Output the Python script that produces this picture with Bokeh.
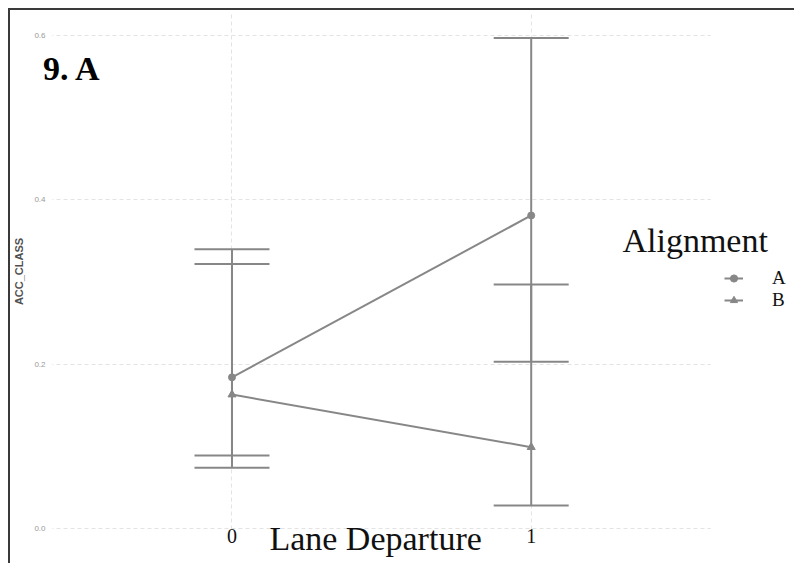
from bokeh.plotting import figure
from bokeh.models import (ColumnDataSource, Whisker, TeeHead, FixedTicker, Range1d,
                          Label, Legend, LegendItem, PrintfTickFormatter, LinearAxis,
                          BoxAnnotation)
from bokeh.embed import file_html
from bokeh.resources import INLINE

# ---- data ----
lane_departure = [0, 1]
acc_A = [0.184, 0.381]
acc_B = [0.163, 0.099]
lower_A = [0.089, 0.203]
upper_A = [0.340, 0.597]
lower_B = [0.074, 0.028]
upper_B = [0.322, 0.297]
y_ticks = [0.0, 0.2, 0.4, 0.6]
series_names = ["A", "B"]
x_title = "Lane Departure"
x_title_pos = 0.48

GRAY = "#878787"
SERIF = "Liberation Serif"
SANS = "Liberation Sans"

p = figure(width=786, height=555, output_backend="svg", toolbar_location=None,
           x_range=Range1d(-0.6333, 1.8867), y_range=Range1d(-0.0012, 0.6268),
           min_border_left=30, min_border_right=0, min_border_top=3, min_border_bottom=36)
p.styles = {"margin-left": "8px", "margin-top": "8px",
            "border-top": "2px solid #3a3a3a", "border-left": "2px solid #3a3a3a"}
p.outline_line_color = None
p.background_fill_color = "white"

# grids
p.xgrid.ticker = FixedTicker(ticks=lane_departure)
p.ygrid.ticker = FixedTicker(ticks=y_ticks)
for g in (p.xgrid, p.ygrid):
    g.grid_line_color = "#e3e3e3"
    g.grid_line_dash = "4 3"
    g.grid_line_width = 1

# panel limits (grid stops at the panel edges x=-0.6 and x=1.6)
for box in (BoxAnnotation(right=-0.6), BoxAnnotation(left=1.6)):
    box.fill_color = "white"
    box.fill_alpha = 1
    box.line_color = None
    box.level = "glyph"
    p.add_layout(box)

# axes
p.xaxis.ticker = FixedTicker(ticks=lane_departure)
p.yaxis.ticker = FixedTicker(ticks=y_ticks)
p.yaxis.formatter = PrintfTickFormatter(format="%.1f")
for ax in (p.xaxis, p.yaxis):
    ax.axis_line_color = None
    ax.major_tick_line_color = None
    ax.minor_tick_line_color = None
    ax.major_tick_out = 0
    ax.minor_tick_out = 0
p.yaxis.major_label_text_font = SANS
p.yaxis.major_label_text_font_size = "8px"
p.yaxis.major_label_text_color = "#9a9a9a"
p.yaxis.major_label_standoff = -3
p.yaxis.axis_label = "ACC_CLASS"
p.yaxis.axis_label_text_font = SANS
p.yaxis.axis_label_text_font_size = "11px"
p.yaxis.axis_label_text_font_style = "bold"
p.yaxis.axis_label_text_color = "#505050"
p.yaxis.axis_label_standoff = 6

p.xaxis.major_label_text_font = SERIF
p.xaxis.major_label_text_font_size = "20px"
p.xaxis.major_label_text_color = "#111111"
p.xaxis.major_label_standoff = -1

ax2 = LinearAxis(ticker=FixedTicker(ticks=[x_title_pos]),
                 major_label_overrides={x_title_pos: x_title})
ax2.axis_line_color = None
ax2.major_tick_line_color = None
ax2.minor_tick_line_color = None
ax2.major_tick_out = 0
ax2.minor_tick_out = 0
ax2.major_label_text_font = SERIF
ax2.major_label_text_font_size = "34px"
ax2.major_label_text_color = "#111111"
ax2.major_label_standoff = -26
p.add_layout(ax2, "below")

# error bars
srcA = ColumnDataSource(dict(x=lane_departure, y=acc_A, lo=lower_A, hi=upper_A))
srcB = ColumnDataSource(dict(x=lane_departure, y=acc_B, lo=lower_B, hi=upper_B))
for src in (srcA, srcB):
    w = Whisker(source=src, base="x", lower="lo", upper="hi", dimension="height",
                line_color=GRAY, line_width=2,
                upper_head=TeeHead(size=75, line_color=GRAY, line_width=2),
                lower_head=TeeHead(size=75, line_color=GRAY, line_width=2))
    p.add_layout(w)

# lines and points
lA = p.line("x", "y", source=srcA, line_color=GRAY, line_width=2)
sA = p.scatter("x", "y", source=srcA, marker="circle", size=7, color=GRAY)
lB = p.line("x", "y", source=srcB, line_color=GRAY, line_width=2)
sB = p.scatter("x", "y", source=srcB, marker="triangle", size=8, color=GRAY)

legend = Legend(items=[LegendItem(label=series_names[0], renderers=[lA, sA]),
                       LegendItem(label=series_names[1], renderers=[lB, sB])],
                location=(682, 218), padding=0, margin=0, spacing=0,
                glyph_width=19, glyph_height=18, label_height=20, label_standoff=29,
                label_text_font=SERIF, label_text_font_size="19px",
                label_text_color="#111111",
                border_line_color=None, background_fill_alpha=0)
p.add_layout(legend)

# texts
p.add_layout(Label(x=-0.632, y=0.560, text="9. A", text_font=SERIF, text_font_size="34px",
                   text_font_style="bold", text_color="#000000", text_baseline="alphabetic"))
p.add_layout(Label(x=1.305, y=0.351, text="Alignment", text_font=SERIF, text_font_size="34px",
                   text_color="#111111", text_baseline="alphabetic"))

open("out.html", "w").write(file_html(p, INLINE))
